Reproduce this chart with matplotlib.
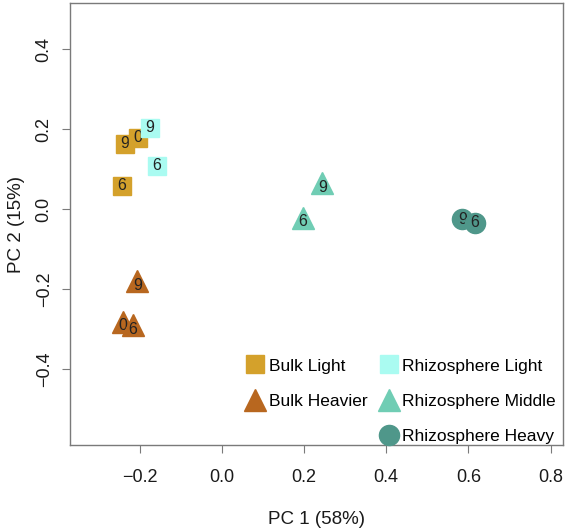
import matplotlib
matplotlib.use("Agg")
import matplotlib.pyplot as plt
from matplotlib.lines import Line2D

plt.rcParams['font.family'] = ['Liberation Sans', 'DejaVu Sans']

# PCA scores (label = sampling day)
bulk_light_x = [-0.236, -0.204, -0.243]
bulk_light_y = [0.163, 0.178, 0.058]
bulk_light_lab = ['9', '0', '6']

rhizo_light_x = [-0.175, -0.157]
rhizo_light_y = [0.203, 0.108]
rhizo_light_lab = ['9', '6']

bulk_heavier_x = [-0.205, -0.240, -0.216]
bulk_heavier_y = [-0.180, -0.282, -0.290]
bulk_heavier_lab = ['9', '0', '6']

rhizo_middle_x = [0.245, 0.198]
rhizo_middle_y = [0.065, -0.022]
rhizo_middle_lab = ['9', '6']

rhizo_heavy_x = [0.585, 0.616]
rhizo_heavy_y = [-0.025, -0.034]
rhizo_heavy_lab = ['9', '6']

groups = [
    ('Bulk Light', bulk_light_x, bulk_light_y, bulk_light_lab, 's', '#D4A12B', 12.5),
    ('Rhizosphere Light', rhizo_light_x, rhizo_light_y, rhizo_light_lab, 's', '#AAFBF1', 12.5),
    ('Bulk Heavier', bulk_heavier_x, bulk_heavier_y, bulk_heavier_lab, '^', '#B8671F', 16.5),
    ('Rhizosphere Middle', rhizo_middle_x, rhizo_middle_y, rhizo_middle_lab, '^', '#70CDB4', 16.5),
    ('Rhizosphere Heavy', rhizo_heavy_x, rhizo_heavy_y, rhizo_heavy_lab, 'o', '#4F978A', 14.5),
]

fig = plt.figure(figsize=(5.66, 5.31), dpi=100)
ax = fig.add_axes([0.1237, 0.162, 0.871, 0.832])

z = 3
handles = {}
for name, xs, ys, labs, mk, col, ms in groups:
    for x, y, lab in zip(xs, ys, labs):
        ax.plot(x, y, marker=mk, color=col, markersize=ms, markeredgecolor=col,
                linestyle='none', zorder=z)
        ax.text(x, y - (0.01 if mk == '^' else 0), lab, ha='center', va='center',
                fontsize=11.5, color='#222222', zorder=z + 1)
        z += 2
    handles[name] = Line2D([], [], marker=mk, color=col, markersize=ms,
                           markeredgecolor=col, linestyle='none')

blank = Line2D([], [], linestyle='none', marker=None)
order = ['Bulk Light', 'Bulk Heavier', None, 'Rhizosphere Light',
         'Rhizosphere Middle', 'Rhizosphere Heavy']
leg_h = [handles[n] if n else blank for n in order]
leg_l = [n if n else '' for n in order]
ax.legend(leg_h, leg_l, ncol=2, loc='lower right', frameon=False, fontsize=12.5,
          handletextpad=0.1, columnspacing=0.5, labelspacing=1.15,
          handlelength=1.4, borderaxespad=0.0, bbox_to_anchor=(1.0, -0.013))

ax.set_xlim(-0.369, 0.83)
ax.set_ylim(-0.59, 0.515)
ax.set_xticks([-0.2, 0.0, 0.2, 0.4, 0.6, 0.8])
ax.set_yticks([-0.4, -0.2, 0.0, 0.2, 0.4])
ax.set_xticklabels(['\u22120.2', '0.0', '0.2', '0.4', '0.6', '0.8'])
ax.set_yticklabels(['\u22120.4', '\u22120.2', '0.0', '0.2', '0.4'], rotation=90,
                   va='center')

for s in ax.spines.values():
    s.set_color('#7a7a7a')
    s.set_linewidth(1.0)
ax.tick_params(axis='both', direction='out', length=5.5, color='#7a7a7a',
               labelsize=13, labelcolor='#1a1a1a')
ax.tick_params(axis='x', pad=12)
ax.tick_params(axis='y', pad=7)

ax.set_xlabel('PC 1 (58%)', fontsize=13.5, color='#1a1a1a', labelpad=18)
ax.set_ylabel('PC 2 (15%)', fontsize=13.5, color='#1a1a1a', labelpad=8)

fig.savefig('out.png', dpi=100)
